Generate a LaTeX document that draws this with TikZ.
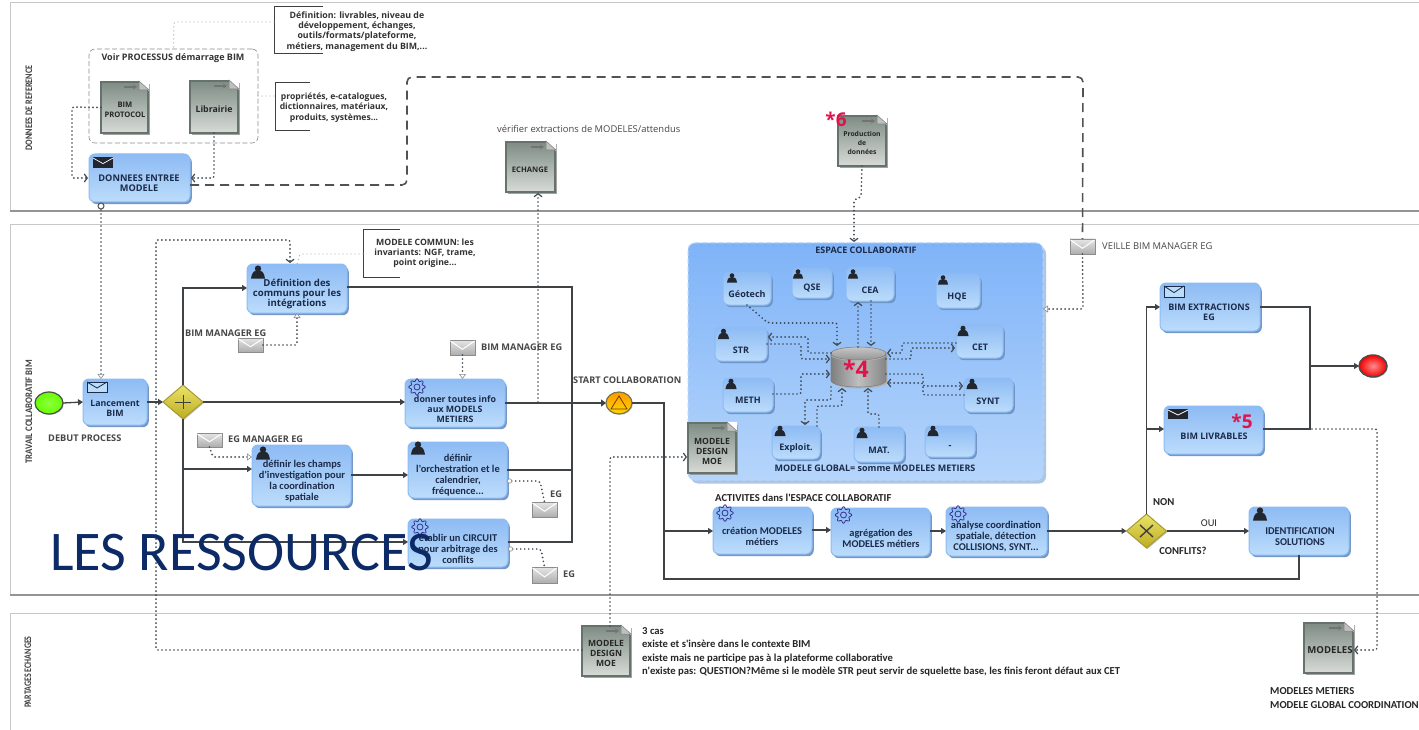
\documentclass[tikz,border=0pt]{standalone}
\usepackage{fontspec}
\setmainfont{Open Sans}
\newfontfamily\carl{Carlito}
\usetikzlibrary{arrows.meta,shadows,calc,shapes.geometric}
\definecolor{ink}{HTML}{1B2B4A}
\definecolor{dots}{HTML}{3E4851}
\definecolor{flow}{HTML}{3F4346}
\definecolor{crim}{HTML}{E0144C}
\definecolor{navy}{HTML}{0B2A66}
\definecolor{mytop}{HTML}{8DBBF4}
\definecolor{mybot}{HTML}{BCDCFB}
\definecolor{myshad}{HTML}{6C93C4}
\definecolor{doced}{HTML}{65736C}
\definecolor{doctop}{HTML}{7E8C84}
\definecolor{docbot}{HTML}{D8DBD8}
\definecolor{collt}{HTML}{7FB3F8}
\definecolor{collb}{HTML}{B5D5FB}
\definecolor{collshad}{HTML}{5F8FCF}
\definecolor{persc}{HTML}{22262E}
\definecolor{gatet}{HTML}{EBE368}
\definecolor{gateb}{HTML}{BCAC22}
\definecolor{gated}{HTML}{A89A30}
\tikzset{
 x=1pt,y=-1pt,
 lane/.style={draw=black!22,line width=1pt},
 laneedge/.style={draw=black!42,line width=1.6pt},
 task/.style={rectangle,rounded corners=6pt,draw=mytop,line width=1pt,top color=mytop,bottom color=mybot,outer sep=0pt,inner sep=0pt,
   drop shadow={shadow xshift=1.8pt,shadow yshift=-2.2pt,fill=myshad,opacity=.95}},
 tasktext/.style={font=\bfseries\fontsize{8.8}{10.2}\selectfont,text=ink,align=center,inner sep=0pt},
 smalltext/.style={font=\bfseries\fontsize{9}{10}\selectfont,text=ink,align=center,inner sep=0pt},
 carltext/.style={font=\carl\bfseries\fontsize{10.4}{11}\selectfont,text=ink,align=center,inner sep=0pt},
 lab/.style={font=\bfseries\fontsize{9.2}{10}\selectfont,text=black!72,inner sep=0pt},
 labc/.style={font=\carl\bfseries\fontsize{10.65}{13.2}\selectfont,text=black!85,inner sep=0pt},
 lanelab/.style={font=\carl\bfseries\fontsize{10}{11}\selectfont,text=black!75,rotate=90,inner sep=0pt},
 note/.style={font=\bfseries\fontsize{8.8}{10.2}\selectfont,text=black!80,align=center,inner sep=0pt},
 docbox/.style={rectangle,draw=doced,line width=2pt,top color=doctop,bottom color=docbot,outer sep=0pt,inner sep=0pt,
   drop shadow={shadow xshift=1.6pt,shadow yshift=-1.6pt,fill=black!45,opacity=.8}},
 doctext/.style={font=\bfseries\fontsize{7.6}{9.6}\selectfont,text=black!85,align=center,inner sep=0pt},
 seqflow/.style={draw=flow,line width=1.3pt,-{Triangle[length=5pt,width=6pt]}},
 seqline/.style={draw=flow,line width=1.3pt},
 msgflow/.style={draw=dots,line width=1.9pt,line cap=round,dash pattern=on 0pt off 4pt,rounded corners=2pt,-{Straight Barb[length=3pt,width=8pt,line width=1.2pt,sep=1pt]}},
 msggray/.style={draw=dots,line width=1.9pt,line cap=round,dash pattern=on 0pt off 4pt,rounded corners=2pt},
 graytip/.style={-{Triangle[open,length=5pt,width=7pt,fill=white,line width=.6pt,color=black!45]}},
 graydot/.style={{Circle[open,length=5pt,width=5pt,fill=white,line width=.6pt,color=black!45]}-},
 lightdot/.style={draw=black!30,line width=1.4pt,line cap=round,dash pattern=on 0pt off 4pt,rounded corners=2pt},
 longdash/.style={draw=black!68,line width=1.6pt,dash pattern=on 9pt off 6pt,rounded corners=5pt},
 bracket/.style={draw=black!75,line width=1pt},
 mailbox/.style={rectangle,draw=black!45,line width=.8pt,top color=black!10,bottom color=black!32,outer sep=0pt,inner sep=0pt,
   drop shadow={shadow xshift=1pt,shadow yshift=-1pt,fill=black!35,opacity=.7}},
 gate/.style={diamond,draw=gated,line width=1pt,top color=gatet,bottom color=gateb,outer sep=0pt,inner sep=0pt,
   minimum width=40pt,minimum height=34pt,aspect=1.2,drop shadow={shadow xshift=1pt,shadow yshift=-1pt,fill=black!35,opacity=.7}},
}
% task box: name x1 y1 x2 y2
\newcommand\tsk[5]{\node[task,minimum width={(#4-#2)*1pt},minimum height={(#5-#3)*1pt}] (#1) at ({(#2+#4)/2},{(#3+#5)/2}) {};}
% document: name x1 y1 x2 y2
\newcommand\dcm[5]{\node[docbox,minimum width={(#4-#2)*1pt},minimum height={(#5-#3)*1pt}] (#1) at ({(#2+#4)/2},{(#3+#5)/2}) {};
 \fill[white] (#4-9,#3-1.2) -- (#4+1.2,#3-1.2) -- (#4+1.2,#3+9) -- cycle;
 \fill[black!25,draw=black!50,line width=.5pt] (#4-9,#3-1) -- (#4-9,#3+8) -- (#4+1,#3+8) -- cycle;
 \draw[black!55,line width=1.2pt,-{Stealth[length=4pt,width=5pt]}] (#4-24,#3+5) -- (#4-11,#3+5);}
% icons
\newcommand\persicon[3]{\begin{scope}[shift={(#1,#2)},scale=#3]
 \fill[persc] (0,-3.4) circle (3.2);
 \fill[persc] (-7,6.5) .. controls (-6,0) and (-4,-1.5) .. (0,-1.5) .. controls (4,-1.5) and (6,0) .. (7,6.5) -- cycle;
 \end{scope}}
\newcommand\gearicon[2]{\draw[blue!45!black!80,line width=.8pt,shift={(#1,#2)},domain=0:360,samples=65,smooth] plot ({(7+1.2*cos(8*\x))*cos(\x)},{(7+1.2*cos(8*\x))*sin(\x)}) -- cycle;
 \draw[blue!45!black!80,line width=.8pt] (#1,#2) circle (3);}
\newcommand\mailopen[4]{\draw[ink,line width=.8pt,fill=mybot] (#1,#2) rectangle (#3,#4); \draw[ink,line width=.8pt] (#1,#2) -- ({(#1+#3)/2},{#2+(#4-#2)*.6}) -- (#3,#2);}
\newcommand\mailblack[4]{\fill[persc] (#1,#2) rectangle (#3,#4); \draw[white,line width=.7pt] (#1,{#2+1}) -- ({(#1+#3)/2},{#2+(#4-#2)*.6}) -- (#3,{#2+1});}
\newcommand\mailgray[5]{\node[mailbox,minimum width={(#4-#2)*1pt},minimum height={(#5-#3)*1pt}] (#1) at ({(#2+#4)/2},{(#3+#5)/2}) {};
 \draw[white,line width=1pt] (#2+.5,#3+1) -- ({(#2+#4)/2},{#3+(#5-#3)*.62}) -- (#4-.5,#3+1);}
\begin{document}
\begin{tikzpicture}
\useasboundingbox (0,0) rectangle (1419,730);
\fill[white] (0,0) rectangle (1419,730);
% lanes
\draw[lane] (1419,3) -- (10,3) -- (10,211); \draw[laneedge] (10,211) -- (1419,211);
\draw[lane] (1419,225) -- (10,225) -- (10,595); \draw[laneedge] (10,595) -- (1419,595);
\draw[lane] (1419,613) -- (10,613) -- (10,730);
\node[lanelab] (l1) at (29,108) {\scalebox{.82}[1]{DONNEES DE REFERENCE}};
\node[lanelab] (l2) at (29,412) {\scalebox{.88}[1]{TRAVAIL COLLABORATIF BIM}};
\node[lanelab] (l3) at (28,672) {\scalebox{.8}[1]{PARTAGES ECHANGES}};

% group
\node[draw=black!45,line width=.6pt,dash pattern=on 5pt off 2.5pt,rounded corners=6pt,minimum width=169pt,minimum height=94pt,inner sep=0pt,outer sep=0pt] (grp) at (173.5,96) {};
\node[font=\bfseries\fontsize{9}{10}\selectfont,text=black!80,inner sep=0pt] (grpt) at (173,58) {Voir PROCESSUS démarrage BIM};

% collab box
\node[rectangle,rounded corners=7pt,minimum width=355pt,minimum height=237pt,top color=collt,bottom color=collb,draw=collb,dash pattern=on 6pt off 2pt,line width=1pt,outer sep=0pt,inner sep=0pt,
  drop shadow={shadow xshift=3pt,shadow yshift=-3.5pt,fill=collshad}] (coll) at (865.5,361.5) {};

% documents
\dcm{bim}{101}{82}{148}{133}
\dcm{lib}{190}{81}{238}{133}
\dcm{ech}{506}{142}{555}{192}
\dcm{prod}{838}{116}{886}{166}
\dcm{dm1}{688}{423}{736}{473}
\dcm{dm2}{582}{626}{630}{676}
\dcm{mod}{1304}{623}{1353}{673}

% tasks
\tsk{don}{89}{154}{190}{202}
\tsk{lan}{83}{379}{147}{425}
\tsk{def}{247}{264}{347}{313}
\tsk{dtm}{405}{379}{505}{427}
\tsk{orc}{408}{442}{507}{498}
\tsk{cha}{252}{445}{351}{506}
\tsk{eta}{408}{519}{508}{567}
\tsk{cre}{713}{507}{812}{554}
\tsk{agr}{831}{508}{930}{556}
\tsk{ana}{946}{507}{1047}{556}
\tsk{ide}{1249}{507}{1349}{555}
\tsk{ext}{1160}{283}{1260}{331}
\tsk{liv}{1164}{406}{1263}{454}
\tsk{geo}{723}{272}{771}{305}
\tsk{qse}{792}{268}{832}{298}
\tsk{cea}{846}{267}{894}{301}
\tsk{hqe}{936}{274}{980}{308}
\tsk{str}{715}{327}{767}{361}
\tsk{cet}{956}{324}{1003}{358}
\tsk{met}{723}{378}{773}{412}
\tsk{syn}{964}{378}{1013}{412}
\tsk{exp}{772}{426}{820}{459}
\tsk{mat}{854}{427}{904}{462}
\tsk{das}{925}{426}{975}{457}

% events and gateways
\node[ellipse,draw=black!70,line width=1.2pt,inner color=green!60!yellow!75!white,outer color=green!60!yellow,minimum width=28pt,minimum height=22pt,inner sep=0pt,outer sep=0pt,drop shadow={shadow xshift=1pt,shadow yshift=-1pt,fill=black!30}] (st) at (49,403) {};
\node[ellipse,draw=black!70,line width=1.4pt,inner color=red!45!white,outer color=red!95!black,minimum width=28pt,minimum height=22pt,inner sep=0pt,outer sep=0pt,drop shadow={shadow xshift=1pt,shadow yshift=-1pt,fill=black!40}] (en) at (1373,366) {};
\node[ellipse,draw=yellow!40!black,line width=1.2pt,top color=orange!80!yellow,bottom color=yellow!70!orange,minimum width=26pt,minimum height=22pt,inner sep=0pt,outer sep=0pt,drop shadow={shadow xshift=1pt,shadow yshift=-1pt,fill=black!30}] (sc) at (619,403) {};
\draw[black!55!orange,line width=.8pt] (619,396) -- (627,409) -- (611,409) -- cycle;
\node[gate] (g1) at (183,402) {};
\draw[black!75,line width=1pt] (175,402) -- (191,402) (183,395) -- (183,409);
\node[gate] (g2) at (1146.5,531) {};
\draw[black!75,line width=1.4pt] (1140,525) -- (1153,537) (1153,525) -- (1140,537);

% sequence flows
\draw[seqflow] (st.east) -- (lan.west);
\draw[seqflow] (lan.east) -- (g1.west);
\draw[seqflow] (g1.north) |- (def.west |- 0,288);
\draw[seqflow] (g1.east) -- (dtm.west |- g1.east);
\draw[seqflow] (g1.south) |- (eta.west |- 0,542);
\draw[seqflow] (g1.south |- 0,469) -- (cha.west |- 0,469);
\draw[seqflow] (cha.east |- 0,475) -- (orc.west |- 0,475);
\coordinate (j1) at (572,403);
\draw[seqline] (def.east |- 0,287) -| (j1);
\draw[seqline] (dtm.east |- j1) -- (j1);
\draw[seqline] (orc.east |- 0,470) -| (j1);
\draw[seqline] (eta.east |- 0,542) -| (j1);
\draw[draw=flow,line width=2.2pt,-{Triangle[length=5pt,width=7pt]}] (j1) -- (sc.west);
\coordinate (j2) at (664,531);
\draw[seqline] (sc.east) -| (j2);
\draw[seqflow] (j2) -- (cre.west |- j2);
\draw[seqline] (ide.south) |- (664,579) -- (j2);
\draw[seqflow] (cre.east |- 0,530) -- (agr.west |- 0,530);
\draw[seqflow] (agr.east |- 0,531) -- (ana.west |- 0,531);
\draw[seqflow] (ana.east |- g2.west) -- (g2.west);
\draw[seqflow] (g2.east) -- (ide.west |- g2.east);
\draw[seqflow] (g2.north) |- (ext.west |- 0,307);
\draw[seqflow] (g2.north |- 0,429) -- (liv.west |- 0,429);
\coordinate (j3) at (1310,366);
\draw[seqline] (ext.east |- 0,307) -| (j3);
\draw[seqline] (liv.east |- 0,429) -| (j3);
\draw[draw=flow,line width=1.8pt,-{Triangle[length=5pt,width=6pt]}] (j3) -- (en.west);

% long dashed
\mailgray{vei}{1070}{239}{1095}{254}
\draw[longdash] (don.east |- 0,185) -- (407,185) -- (407,77) -- (1083,77) -- (vei.north);

% message flows
\coordinate (e1) at (538,402);
\coordinate (e2) at (1312,429);
\coordinate (cc) at (101,206);
\draw[msgflow] (bim.west) -- (72,107) -- (72,178) -- (don.west |- 0,178);
\draw[msgflow] (lib.south) -- (214,178) -- (don.east |- 0,178);
\draw[msggray,graytip] (cc) -- (lan.north -| 101,0);
\draw[msgflow] (dm2.west |- 0,650) -- (156,650) -- (156,240) -- (290,240) -- (def.north -| 290,0);
\draw[msgflow] (dm2.north -| 610,0) -- (610,457) -- (dm1.west |- 0,457);
\draw[msgflow] (e1) -- (ech.south -| e1);
\draw[msgflow] (prod.south) -- (861,197) -- (854,200) -- (coll.north -| 854,0);
\draw[msgflow] (e2) -- (1377,429) -- (1377,650) -- (mod.east |- 0,650);
\mailgray{m1}{238}{338}{263}{352}
\draw[msggray,graytip] (m1.east) -- (297,345) -- (def.south -| 297,0);
\mailgray{m2}{450}{340}{475}{355}
\draw[msggray,graytip] (m2.south) -- (dtm.north -| m2.south);
\mailgray{m3}{197}{433}{222}{447}
\draw[msggray,graytip] (m3.south) -- (213,457) -- (cha.west |- 0,457);
\mailgray{m4}{532}{502}{557}{517}
\draw[msggray,graydot] (orc.east |- 0,481) -- (540,481) -- (m4.north);
\mailgray{m5}{532}{567}{557}{583}
\draw[msggray,graydot] (eta.east |- 0,549) -- (541,549) -- (m5.north);
\draw[msggray,graytip] (vei.south) -- (1083,309) -- (coll.east |- 0,309);
\draw[draw=black!70,fill=white,line width=1pt] (cc) circle (3);

% cylinder
\node[rectangle,minimum width=55pt,minimum height=40pt,inner sep=0pt,outer sep=0pt] (cyl) at (858.5,367) {};
\fill[black!30,shift={(1.5,1.5)}] (831,353) -- (831,381) .. controls (835,389) and (882,389) .. (886,381) -- (886,353) -- cycle;
\path[left color=black!50,right color=black!48,middle color=black!25,draw=black!50,line width=.6pt] (831,353) -- (831,381) .. controls (835,389) and (882,389) .. (886,381) -- (886,353) -- cycle;
\path[top color=black!22,bottom color=black!42,draw=black!50,line width=.6pt] (858.5,353.5) ellipse (27.5 and 6.5);
\draw[black!30,line width=.6pt] (831.5,356) .. controls (838,362) and (879,362) .. (885.5,356);

% collaboration dotted links
\draw[msgflow] (geo.south |- 0,305) -- (768,323) -- (837,323) -- (837,347);
\draw[msgflow] (cyl.west |- 0,353) -- (808,353) -- (808,337) -- (str.east |- 0,337);
\draw[msgflow] (str.east |- 0,344) -- (801,344) -- (801,359) -- (cyl.west |- 0,359);
\draw[msgflow] (met.east |- 0,394) -- (801,394) -- (801,374) -- (cyl.west |- 0,374);
\draw[msgflow] (exp.north -| 817,0) -- (817,406) -- (842,406) -- (cyl.south -| 842,0);
\draw[msgflow] (cyl.south -| 831,0) -- (831,400) -- (805,400) -- (exp.north -| 805,0);
\draw[msgflow] (mat.north -| 879,0) -- (879,414) -- (868,414) -- (cyl.south -| 868,0);
\draw[msgflow] (cyl.north -| 858,0) -- (cea.south -| 858,0);
\draw[msgflow] (cea.south -| 871,0) -- (cyl.north -| 871,0);
\draw[msgflow] (cet.west |- 0,343) -- (902,343) -- (902,353) -- (cyl.east |- 0,353);
\draw[msgflow] (cyl.east |- 0,359) -- (911,359) -- (911,348) -- (cet.west |- 0,348);
\draw[msgflow] (cyl.east |- 0,374) -- (923,374) -- (923,386) -- (syn.west |- 0,386);
\draw[msgflow] (syn.west |- 0,395) -- (923,395) -- (923,383) -- (cyl.east |- 0,383);

% annotations
\draw[bracket] (323,7) -- (274,7) -- (274,54) -- (323,54);
\draw[bracket] (310,83) -- (275,83) -- (275,131) -- (310,131);
\draw[bracket] (400,230) -- (363,230) -- (363,277) -- (400,277);
\coordinate (an1) at (274,22); \coordinate (an2) at (275,96); \coordinate (an3) at (363,254);
\draw[lightdot] (an1) -- (174,22) -- (grp.north);
\draw[lightdot] (grp.east |- an2) -- (an2);
\draw[lightdot] (an3) -- (300,254) -- (def.north -| 297,0);
\node[note] (n1) at (357,31.5) {Définition: livrables, niveau de\\développement, échanges,\\outils/formats/plateforme,\\métiers, management du BIM,...};
\node[note,font=\bfseries\fontsize{8.6}{10.4}\selectfont] (n2) at (334,107.5) {propriétés, e-catalogues,\\dictionnaires, matériaux,\\produits, systèmes...};
\node[note,font=\bfseries\fontsize{8.7}{10.2}\selectfont] (n3) at (425,253.5) {MODELE COMMUN: les\\invariants: NGF, trame,\\point origine...};

% task icons
\mailblack{93}{157}{113}{168}
\mailopen{87}{382}{107}{392}
\mailopen{1164}{286}{1184}{297}
\mailblack{1168}{409}{1188}{419}
\persicon{258}{272}{1}
\persicon{263}{453}{1}
\persicon{418}{448}{1}
\persicon{1260}{514}{1}
\persicon{732}{278}{.72}
\persicon{798}{274}{.72}
\persicon{853}{274}{.72}
\persicon{943}{280}{.72}
\persicon{723.5}{334}{.8}
\persicon{963}{331}{.8}
\persicon{731}{384}{.8}
\persicon{972}{384}{.8}
\persicon{780}{431}{.8}
\persicon{862}{433}{.8}
\persicon{933}{431}{.8}
\gearicon{417}{387}
\gearicon{420}{527}
\gearicon{725}{513}
\gearicon{843.5}{515}
\gearicon{958}{514}

% task text
\node[tasktext,font=\bfseries\fontsize{9.2}{10.2}\selectfont] (t1) at (139,183) {DONNEES  ENTREE\\MODELE};
\node[tasktext] (t2) at (115,408) {Lancement\\BIM};
\node[tasktext,font=\bfseries\fontsize{9.6}{10.2}\selectfont] (t3) at (297,294) {Définition des\\communs pour les\\intégrations};
\node[tasktext] (t4) at (455,409) {donner toutes info\\aux MODELS\\METIERS};
\node[carltext] (t5) at (458,475) {définir\\l'orchestration et le\\calendrier,\\fréquence...};
\node[carltext] (t6) at (302,481) {définir les champs\\d'investigation pour\\la coordination\\spatiale};
\node[carltext] (t7) at (458,549) {établir un CIRCUIT\\pour arbitrage des\\conflits};
\node[carltext] (t8) at (762,536) {création MODELES\\métiers};
\node[carltext] (t9) at (881,538) {agrégation des\\MODELES métiers};
\node[carltext] (t10) at (996,537) {analyse coordination\\spatiale, détection\\COLLISIONS, SYNT...};
\node[carltext] (t11) at (1300,537) {IDENTIFICATION\\SOLUTIONS};
\node[smalltext] (t12) at (1209,312) {BIM EXTRACTIONS\\EG};
\node[smalltext] (t13) at (1214,436) {BIM LIVRABLES};
\node[smalltext] (c1) at (747,294) {Géotech};
\node[smalltext] (c2) at (812,288) {QSE};
\node[smalltext] (c3) at (870,290) {CEA};
\node[smalltext] (c4) at (957,297) {HQE};
\node[smalltext] (c5) at (741,350) {STR};
\node[smalltext] (c6) at (980,347) {CET};
\node[smalltext] (c7) at (748,400) {METH};
\node[smalltext] (c8) at (988,401) {SYNT};
\node[smalltext] (c9) at (796,448) {Exploit.};
\node[smalltext] (c10) at (879,450) {MAT.};
\node[smalltext] (c11) at (950,447) {-};
\node[smalltext] (c12) at (866,250) {ESPACE COLLABORATIF};
\node[smalltext] (c13) at (875,468) {MODELE GLOBAL= somme MODELES METIERS};

% doc text
\node[doctext] (d1) at (125,110) {BIM\\PROTOCOL};
\node[doctext,font=\bfseries\fontsize{8.8}{10}\selectfont] (d2) at (214,109) {Librairie};
\node[doctext] (d3) at (530,170) {ECHANGE};
\node[doctext,font=\bfseries\fontsize{6.8}{8.7}\selectfont] (d4) at (862,143) {Production\\de\\données};
\node[doctext,font=\bfseries\fontsize{8.6}{10}\selectfont] (d5) at (712,451) {MODELE\\DESIGN\\MOE};
\node[doctext,font=\bfseries\fontsize{8.6}{10}\selectfont] (d6) at (606,653) {MODELE\\DESIGN\\MOE};
\node[doctext,font=\bfseries\fontsize{9.6}{10}\selectfont] (d7) at (1330,650) {MODELES};

% labels
\node[lab,anchor=west] (b1) at (185,333) {BIM MANAGER EG};
\node[lab,anchor=west] (b2) at (481,347) {BIM MANAGER EG};
\node[lab,anchor=west] (b3) at (573,380) {START COLLABORATION};
\node[lab,anchor=west] (b4) at (48,438) {DEBUT PROCESS};
\node[lab,anchor=west] (b5) at (228,439) {EG MANAGER EG};
\node[lab,anchor=west] (b6) at (550,494) {EG};
\node[lab,anchor=west] (b7) at (563,574) {EG};
\node[lab,anchor=west,font=\fontsize{9.4}{10}\selectfont] (b8) at (1102,246) {VEILLE BIM MANAGER EG};
\node[lab,anchor=west,font=\fontsize{9.4}{10}\selectfont] (b9) at (497,129) {vérifier  extractions de MODELES/attendus};
\node[labc,anchor=west] (b10) at (715,498) {ACTIVITES dans l'ESPACE COLLABORATIF};
\node[labc,anchor=west] (b11) at (1153,502) {NON};
\node[labc,font=\carl\fontsize{10.4}{11}\selectfont] (b12) at (1209,523) {OUI};
\node[labc] (b13) at (1183,551) {CONFLITS?};
\node[labc,anchor=north west,align=left] (b14) at (642,627.5) {3 cas\\existe et s'insère dans le contexte BIM\\existe mais ne participe pas à la plateforme collaborative\\n'existe pas: QUESTION?Même si le modèle STR peut servir de squelette base, les finis feront défaut aux CET};
\node[labc,anchor=north west,align=left,font=\carl\bfseries\fontsize{10.65}{14}\selectfont] (b15) at (1270,687) {MODELES METIERS\\MODELE GLOBAL COORDINATION};

% red marks
\node[text=crim,font=\bfseries\fontsize{23}{24}\selectfont,inner sep=0pt] (r4) at (856,369) {*4};
\node[text=crim,font=\bfseries\fontsize{19}{20}\selectfont,inner sep=0pt] (r5) at (1242,421) {*5};
\node[text=crim,font=\bfseries\fontsize{19}{20}\selectfont,inner sep=0pt] (r6) at (836,119) {*6};

% overlay title
\node[text=navy,font=\carl\fontsize{56}{60}\selectfont,inner sep=0pt,anchor=base west] (big) at (50,570) {LES RESSOURCES};
\end{tikzpicture}
\end{document}
